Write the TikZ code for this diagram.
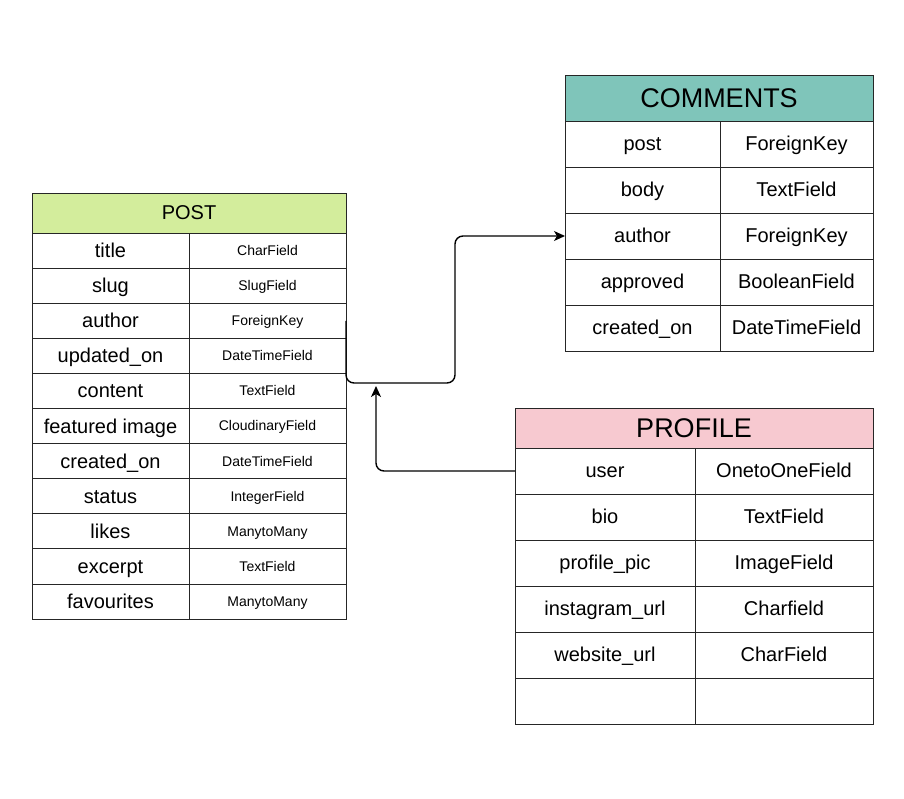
\documentclass[tikz,border=0pt]{standalone}
\usepackage{fontspec}
\setmainfont{Liberation Sans}
\usetikzlibrary{arrows.meta}
\definecolor{postg}{HTML}{D3ED9C}
\definecolor{comt}{HTML}{7FC5BA}
\definecolor{profp}{HTML}{F7C9D0}
\tikzset{
  cell/.style={draw=black!85, line width=1pt, anchor=north west, inner sep=0pt, outer sep=0pt, text=black},
  big/.style={font=\fontsize{27}{30}\selectfont, text height=24.4pt, text depth=5.7pt},
  mid/.style={font=\fontsize{20}{24}\selectfont, text height=18.1pt, text depth=4.2pt},
  small/.style={font=\fontsize{14}{17}\selectfont, text height=12.7pt, text depth=3pt},
  conn/.style={draw=black, line width=1.4pt, rounded corners=8pt},
  tip/.style={-{Stealth[length=11pt,width=10pt,inset=3pt]}}
}
\begin{document}
\begin{tikzpicture}[x=1pt,y=-1pt]
\useasboundingbox (0,0) rectangle (904,798);
% POST
\node[cell, fill=postg, mid, minimum width=314pt, minimum height=40pt] (post) at (32,193) {POST};
\foreach \a/\b [count=\i from 0] in {title/CharField, slug/SlugField, author/ForeignKey, updated\_on/DateTimeField, content/TextField, featured image/CloudinaryField, created\_on/DateTimeField, status/IntegerField, likes/ManytoMany, excerpt/TextField, favourites/ManytoMany} {
  \node[cell, mid, minimum width=157pt, minimum height=35.1pt] (pn\i) at (32,233+35.1*\i) {\a};
  \node[cell, small, minimum width=157pt, minimum height=35.1pt] (pt\i) at (189,233+35.1*\i) {\b};
}
% COMMENTS
\node[cell, fill=comt, big, minimum width=308pt, minimum height=46pt] (comments) at (565,75) {COMMENTS};
\foreach \a/\b [count=\i from 0] in {post/ForeignKey, body/TextField, author/ForeignKey, approved/BooleanField, created\_on/DateTimeField} {
  \node[cell, mid, minimum width=155pt, minimum height=46pt] (cn\i) at (565,121+46*\i) {\a};
  \node[cell, mid, minimum width=153pt, minimum height=46pt] (ct\i) at (720,121+46*\i) {\b};
}
% PROFILE
\node[cell, fill=profp, big, minimum width=358pt, minimum height=40pt] (profile) at (515,408) {PROFILE};
\foreach \a/\b [count=\i from 0] in {user/OnetoOneField, bio/TextField, profile\_pic/ImageField, instagram\_url/Charfield, website\_url/CharField, {}/{}} {
  \node[cell, mid, minimum width=180pt, minimum height=46pt] (rn\i) at (515,448+46*\i) {\a};
  \node[cell, mid, minimum width=178pt, minimum height=46pt] (rt\i) at (695,448+46*\i) {\b};
}
% connectors
\coordinate (b1) at (455,383);
\coordinate (upt) at (376,386);
\draw[conn, tip] (pt2.east) |- (b1) |- (cn2.west);
\draw[conn, tip] (rn0.west) -| (upt);
\end{tikzpicture}
\end{document}
